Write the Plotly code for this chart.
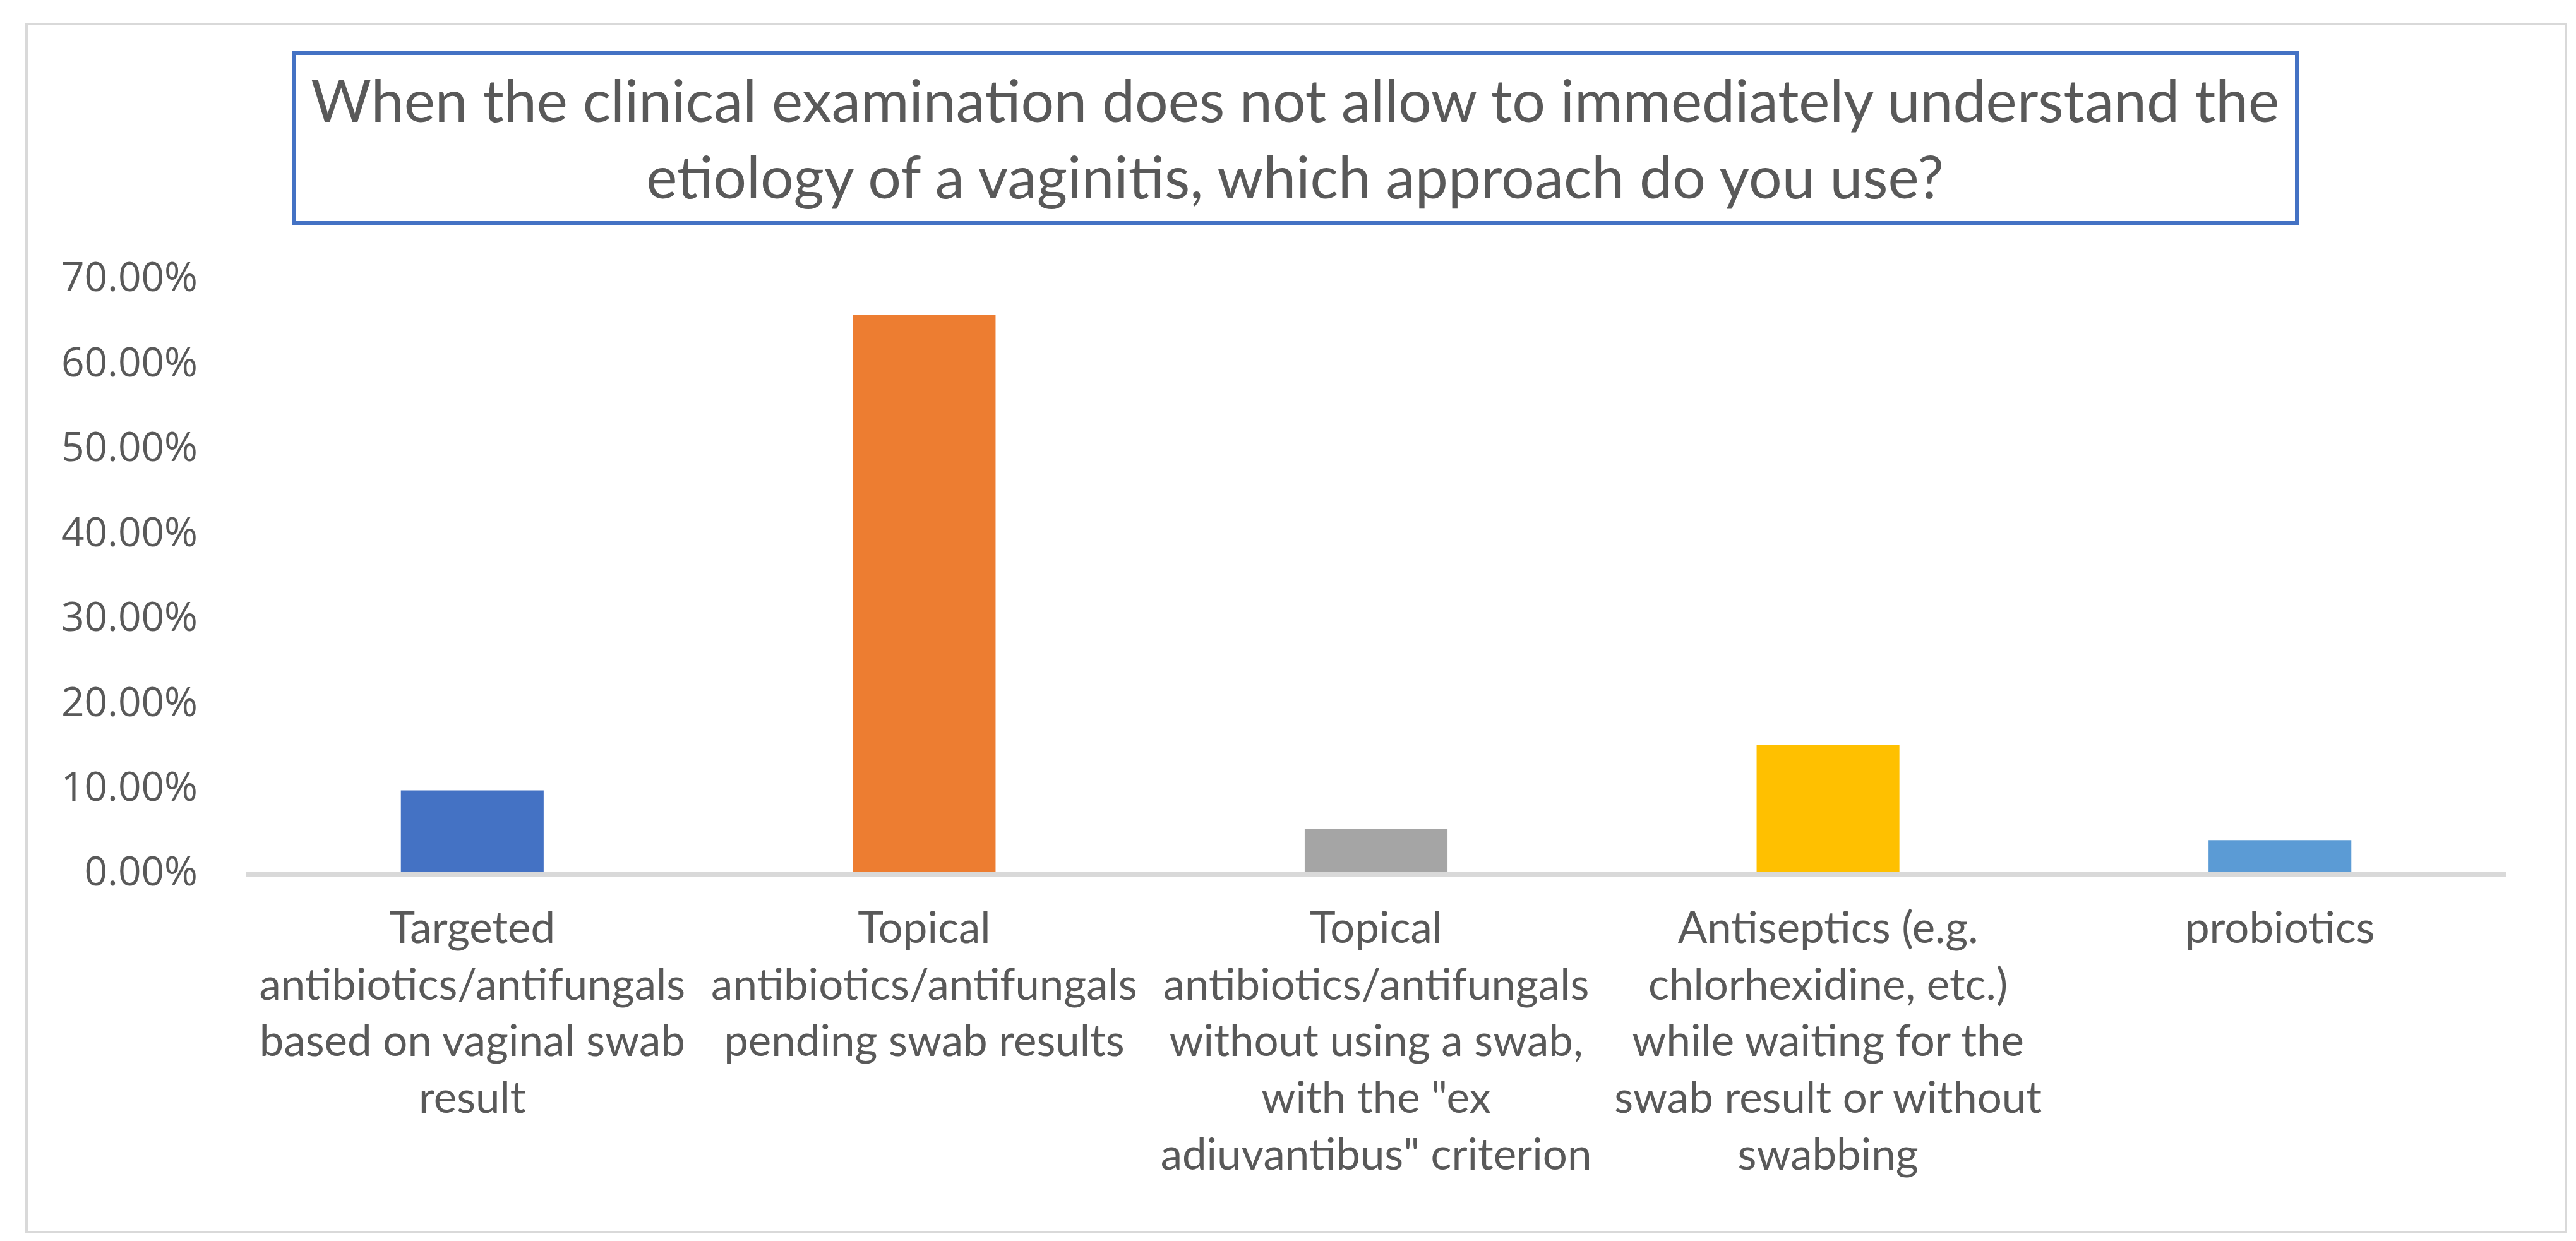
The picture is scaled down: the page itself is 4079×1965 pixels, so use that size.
import plotly.graph_objects as go

W, H = 4079, 1965

categories = [
    "Targeted<br>antibiotics/antifungals<br>based on vaginal swab<br>result",
    "Topical<br>antibiotics/antifungals<br>pending swab results",
    "Topical<br>antibiotics/antifungals<br>without using a swab,<br>with the \"ex<br>adiuvantibus\" criterion",
    "Antiseptics (e.g.<br>chlorhexidine, etc.)<br>while waiting for the<br>swab result or without<br>swabbing",
    "probiotics",
]
values = [0.0955, 0.656, 0.050, 0.1495, 0.037]
colors = ["#4472C4", "#ED7D31", "#A5A5A5", "#FFC000", "#5B9BD5"]
y_ticks = [0, 0.1, 0.2, 0.3, 0.4, 0.5, 0.6, 0.7]
title_text = ("When the clinical examination does not allow to immediately understand the<br>"
              "etiology of a vaginitis, which approach do you use?")

TXT = "#595959"

def px_x(x):
    return x / W

def px_y(y):
    return 1 - y / H

fig = go.Figure(go.Bar(
    x=categories, y=values, marker=dict(color=colors, line=dict(width=0)),
    hoverinfo="skip",
))

fig.update_layout(
    template="none",
    width=W, height=H,
    margin=dict(l=0, r=0, t=0, b=0, pad=0, autoexpand=False),
    paper_bgcolor="white", plot_bgcolor="white",
    showlegend=False,
    bargap=0.684,
    xaxis=dict(
        automargin=False,
        domain=[px_x(382), px_x(3960)],
        showline=True, linecolor="#D9D9D9", linewidth=8,
        showgrid=False, zeroline=False, ticks="",
        ticklabelstandoff=22,
        tickfont=dict(family="Lato", size=69, color=TXT),
        tickangle=0,
    ),
    yaxis=dict(
        automargin=False,
        domain=[px_y(1372), px_y(431)],
        range=[0, 0.7],
        tickvals=y_ticks, tickformat=".2%",
        showline=False, showgrid=False, zeroline=False, ticks="",
        ticklabelstandoff=76,
        tickfont=dict(family="Open Sans", size=64, color=TXT),
    ),
    shapes=[
        dict(type="rect", xref="paper", yref="paper",
             x0=px_x(34), x1=px_x(4055), y0=px_y(1943), y1=px_y(30),
             line=dict(color="#D9D9D9", width=4), fillcolor="rgba(0,0,0,0)"),
        dict(type="rect", xref="paper", yref="paper",
             x0=px_x(458), x1=px_x(3629), y0=px_y(345), y1=px_y(76),
             line=dict(color="#4472C4", width=6), fillcolor="rgba(0,0,0,0)"),
    ],
    annotations=[
        dict(text=title_text, xref="paper", yref="paper",
             x=px_x(2043), y=px_y(210), xanchor="center", yanchor="middle",
             showarrow=False, align="center",
             font=dict(family="Lato", size=93, color=TXT)),
    ],
)

fig.write_html("out.html")
